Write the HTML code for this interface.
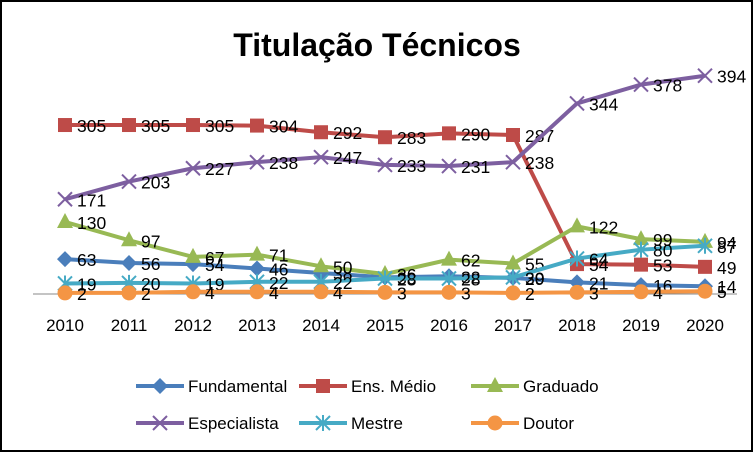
<!DOCTYPE html>
<html><head><meta charset="utf-8"><style>
body{margin:0;background:#fff}
svg{display:block;font-family:"Liberation Sans",sans-serif}
</style></head><body>
<svg id="c" width="754" height="453">
<rect x="1" y="1" width="751" height="450" fill="#fff" stroke="#000" stroke-width="2"/>
<text x="377" y="56" text-anchor="middle" font-size="32" font-weight="bold">Titulação Técnicos</text>
<line x1="33" y1="294" x2="737" y2="294" stroke="#888" stroke-width="1"/>
<g id="xt"></g><g id="series"></g><g id="legend"></g>
</svg>
<script>
const years=[2010,2011,2012,2013,2014,2015,2016,2017,2018,2019,2020];
const fundamental=[63,56,54,46,38,30,32,29,21,16,14];
const ensMedio=[305,305,305,304,292,283,290,287,54,53,49];
const graduado=[130,97,67,71,50,36,62,55,122,99,94];
const especialista=[171,203,227,238,247,233,231,238,344,378,394];
const mestre=[19,20,19,22,22,28,28,30,64,80,87];
const doutor=[2,2,4,4,4,3,3,2,3,4,5];
const NS="http://www.w3.org/2000/svg";
const xs=i=>65+i*64;
const ys=v=>294-v*0.554;
function mk(t,a,p){const e=document.createElementNS(NS,t);for(const k in a)e.setAttribute(k,a[k]);p.appendChild(e);return e;}
const xt=document.getElementById('xt');
years.forEach((y,i)=>{const t=mk('text',{x:xs(i),y:331,'text-anchor':'middle','font-size':17},xt);t.textContent=y;

});
const S=[
{n:'Fundamental',d:fundamental,c:'#4a7ebb',m:'diamond'},
{n:'Ens. Médio',d:ensMedio,c:'#be4b48',m:'square'},
{n:'Graduado',d:graduado,c:'#98b954',m:'triangle'},
{n:'Especialista',d:especialista,c:'#7d5fa0',m:'x'},
{n:'Mestre',d:mestre,c:'#46aac5',m:'star'},
{n:'Doutor',d:doutor,c:'#f49544',m:'circle'}];
function marker(m,x,y,c,g){
 if(m==='diamond')return mk('polygon',{points:`${x},${y-8} ${x+8},${y} ${x},${y+8} ${x-8},${y}`,fill:c},g);
 if(m==='square')return mk('rect',{x:x-7,y:y-7,width:14,height:14,fill:c},g);
 if(m==='triangle')return mk('polygon',{points:`${x},${y-9} ${x+8},${y+6} ${x-8},${y+6}`,fill:c},g);
 if(m==='circle')return mk('circle',{cx:x,cy:y,r:7.5,fill:c},g);
 if(m==='x')return mk('path',{d:`M${x-7},${y-7}L${x+7},${y+7}M${x-7},${y+7}L${x+7},${y-7}`,stroke:c,'stroke-width':2},g);
 return mk('path',{d:`M${x-7},${y-7}L${x+7},${y+7}M${x-7},${y+7}L${x+7},${y-7}M${x},${y-8}L${x},${y+8}`,stroke:c,'stroke-width':2},g);
}
const sg=document.getElementById('series');
S.forEach(s=>{
 const g=mk('g',{},sg);
 
 
 const l=mk('polyline',{points:s.d.map((v,i)=>xs(i)+','+ys(v)).join(' '),fill:'none',stroke:s.c,'stroke-width':4},g);
 
 
 s.d.forEach((v,i)=>{const mm=marker(s.m,xs(i),ys(v),s.c,g);
  
  
  const t=mk('text',{x:xs(i)+12,y:ys(v)+7,'font-size':17.5},g);t.textContent=v;
  
  });
});
const lg=document.getElementById('legend');
const lp=[[160,386],[323,386],[495,386],[160,423],[323,423],[495,423]];
S.forEach((s,i)=>{const [x,y]=lp[i];const g=mk('g',{},lg);
 
 
 mk('line',{x1:x-24,y1:y,x2:x+24,y2:y,stroke:s.c,'stroke-width':4},g);
 marker(s.m,x,y,s.c,g);
 const t=mk('text',{x:x+28,y:y+6,'font-size':17},g);t.textContent=s.n;});
</script>
</body></html>
